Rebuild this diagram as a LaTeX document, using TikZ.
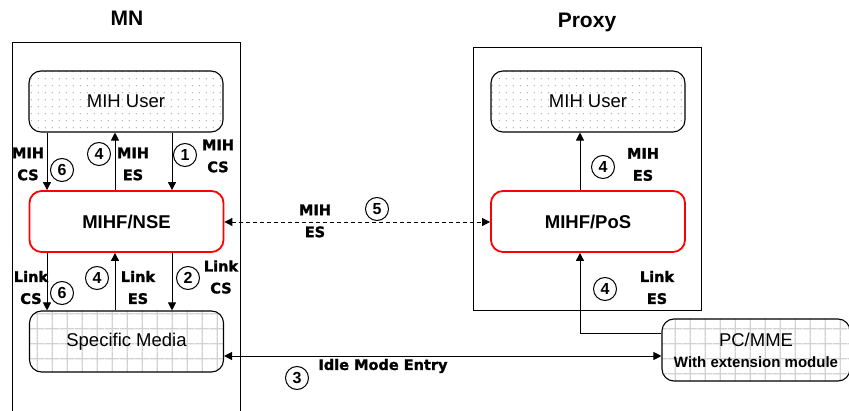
\documentclass[tikz,border=0pt]{standalone}
\usepackage{fontspec}
\setmainfont{Liberation Sans}
\newfontfamily\lblfont[BoldFeatures={FakeBold=1.6}]{DejaVu Sans}
\usetikzlibrary{arrows.meta,patterns.meta}

% light dot texture for the user boxes
\tikzdeclarepattern{name=userdots, type=uncolored,
  bounding box={(0pt,0pt) and (7.2pt,7.2pt)}, tile size={(7.2pt,7.2pt)},
  code={\fill (3.6pt,3.6pt) circle (0.65pt);}}
% light grid texture for the media boxes
\tikzdeclarepattern{name=mediagrid, type=uncolored,
  bounding box={(0pt,0pt) and (15.2pt,15.2pt)}, tile size={(15.2pt,15.2pt)},
  code={\draw[line width=1.4pt] (0pt,7.6pt) -- (15.2pt,7.6pt) (7.6pt,0pt) -- (7.6pt,15.2pt);}}

\begin{document}
\begin{tikzpicture}[x=1pt,y=-1pt,
  frame/.style={draw, line width=1pt},
  box/.style={draw, rounded corners=12pt, minimum width=194pt, minimum height=61pt,
    inner sep=0pt, line width=1.1pt, font=\fontsize{18.5}{22}\selectfont},
  userbox/.style={box, pattern=userdots, pattern color=gray!75},
  mediabox/.style={box, pattern=mediagrid, pattern color=gray!35},
  corebox/.style={box, draw=red, line width=1.8pt, font=\bfseries\fontsize{18.5}{22}\selectfont},
  title/.style={font=\bfseries\fontsize{21}{24}\selectfont},
  lbl/.style={align=center, inner sep=0pt, font=\lblfont\bfseries\fontsize{14.5}{22}\selectfont},
  num/.style={circle, draw, line width=1pt, minimum size=23pt, inner sep=0pt,
    font=\bfseries\fontsize{16}{16}\selectfont},
  arr/.style={-{Triangle[length=8pt,width=8pt]}, line width=0.9pt},
  dblarr/.style={{Triangle[length=8pt,width=8pt]}-{Triangle[length=8pt,width=8pt]}, line width=0.9pt}]
\useasboundingbox (0,0) rectangle (849,411);
\fill[white] (0,0) rectangle (849,411);

% enclosing frames
\draw[frame] (12,420) -- (12,43) -- (240,43) -- (240,420);
\draw[frame] (473,48) rectangle (701,311);
\node[title] (tmn) at (127,18) {MN};
\node[title] (tpx) at (587,22) {Proxy};

% MN stack
\node[userbox]  (mnuser) at (126,101.5) {MIH User};
\node[corebox]  (nse)    at (126.5,221.5) {MIHF/NSE};
\node[mediabox] (media)  at (126.5,341.5) {Specific Media};

% Proxy stack
\node[userbox] (pxuser) at (588,101.5) {MIH User};
\node[corebox] (pos)    at (588,221.5) {MIHF/PoS};
\node[mediabox, minimum width=188pt, minimum height=62pt, align=center] (pcmme) at (756,350)
  {PC/MME\\[-1pt]{\bfseries\fontsize{15}{18}\selectfont With extension module}};

% lanes for the vertical connectors
\coordinate (xa) at (47,0);
\coordinate (xb) at (115,0);
\coordinate (xc) at (172,0);
\coordinate (xp) at (580,0);
\coordinate (yl) at (0,333);
\coordinate (yi) at (0,356);
\coordinate (yd) at (0,222);

% MN upper connectors
\draw[arr] (mnuser.south -| xa) -- (nse.north -| xa);
\draw[arr] (nse.north -| xb) -- (mnuser.south -| xb);
\draw[arr] (mnuser.south -| xc) -- (nse.north -| xc);
% MN lower connectors
\draw[arr] (nse.south -| xa) -- (media.north -| xa);
\draw[arr] (media.north -| xb) -- (nse.south -| xb);
\draw[arr] (nse.south -| xc) -- (media.north -| xc);

% Proxy connectors
\draw[arr] (pos.north -| xp) -- (pxuser.south -| xp);
\draw[arr] (pcmme.west |- yl) -- (xp |- yl) -- (pos.south -| xp);

% peer connectors
\draw[dblarr, dashed, dash pattern=on 4pt off 3pt] (nse.east |- yd) -- (pos.west |- yd);
\draw[dblarr] (media.east |- yi) -- (pcmme.west |- yi);

% MN upper labels
\node[lbl] (l1) at (28,164) {MIH\\CS};
\node[num] (n6a) at (62,170) {6};
\node[num] (n4a) at (99,154) {4};
\node[lbl] (l2) at (133,164) {MIH\\ES};
\node[num] (n1) at (185,155) {1};
\node[lbl] (l3) at (218,156) {MIH\\CS};

% MN lower labels
\node[lbl] (l4) at (31,287.5) {Link\\CS};
\node[num] (n6b) at (62,293) {6};
\node[num] (n4b) at (97,278) {4};
\node[lbl] (l5) at (138,287.5) {Link\\ES};
\node[num] (n2) at (188,278) {2};
\node[lbl] (l6) at (221,277) {Link\\CS};

% peer labels
\node[lbl] (l7) at (315,221) {MIH\\ES};
\node[num] (n5) at (377,209) {5};
\node[num] (n3) at (297,378) {3};
\node[lbl] (l8) at (383,366) {Idle Mode Entry};

% Proxy labels
\node[num] (n4c) at (603,167) {4};
\node[lbl] (l9) at (643,164.5) {MIH\\ES};
\node[num] (n4d) at (605,289) {4};
\node[lbl] (l10) at (657,287.5) {Link\\ES};
\end{tikzpicture}
\end{document}
